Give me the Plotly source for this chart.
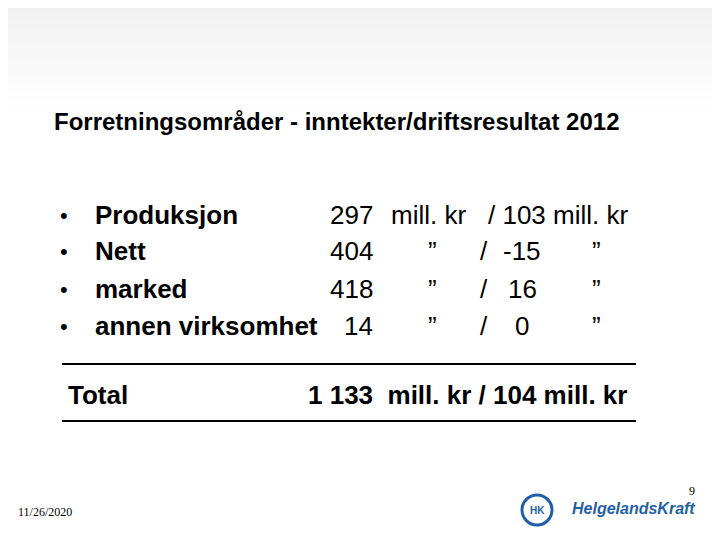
import plotly.graph_objects as go

title = "Forretningsområder - inntekter/driftsresultat 2012"
areas = ["Produksjon", "Nett", "marked", "annen virksomhet"]
revenue = [297, 404, 418, 14]
result = [103, -15, 16, 0]
total_revenue = "1 133"
total_result = 104
slide_date = "11/26/2020"
page_no = "9"

FONT = "Liberation Sans, Arial, sans-serif"
OFF = 8  # page body margin shifts the plot by this much
fig = go.Figure()
fig.update_xaxes(range=[OFF, 720 + OFF], visible=False, fixedrange=True)
fig.update_yaxes(range=[540 + OFF, OFF], visible=False, fixedrange=True)

# faint gray band at the top of the slide
for i in range(20):
    fig.add_shape(type="rect", x0=0, x1=740, y0=OFF + i * 5, y1=OFF + (i + 1) * 5, line_width=0,
                  fillcolor=f"rgba(200,200,200,{0.25 * (1 - i / 20):.3f})", layer="below")


def txt(x, y, s, size=26, anchor="left", bold=False, color="black", family=FONT):
    fig.add_annotation(x=x, y=y, text=f"<b>{s}</b>" if bold else s, showarrow=False,
                       xanchor=anchor, yanchor="middle",
                       font=dict(size=size, color=color, family=family))


txt(52, 121, title, size=24, bold=True)
rows_y = [215, 251, 289, 326]
for y, name, rev, res in zip(rows_y, areas, revenue, result):
    txt(58, y, "•", size=22)
    txt(93, y, name, bold=True)
    txt(375, y, str(rev), anchor="right")
    if y == rows_y[0]:
        txt(389, y, "mill. kr")
        txt(486, y, f"/ {res} mill. kr")
    else:
        txt(432, y, "”", anchor="center")
        txt(484, y, "/", anchor="center")
        txt(522, y, str(res), anchor="center")
        txt(596, y, "”", anchor="center")

for y in (364, 421):
    fig.add_shape(type="line", x0=62, x1=636, y0=y, y1=y, line=dict(color="black", width=2))

txt(66, 395, "Total", bold=True)
txt(629, 395, f"{total_revenue}  mill. kr / {total_result} mill. kr", anchor="right", bold=True)

txt(697, 491, page_no, size=12, anchor="right", family="Liberation Serif, serif")
txt(16, 512, slide_date, size=12, family="Liberation Serif, serif")

# logo
fig.add_shape(type="circle", x0=522, x1=552, y0=495, y1=525, line=dict(color="#1f5fa8", width=3),
              fillcolor="white")
txt(537, 510, "HK", size=10, anchor="center", bold=True, color="#1f5fa8")
txt(697, 508, "<i>HelgelandsKraft</i>", size=16, anchor="right", bold=True, color="#1f5fa8")

fig.update_layout(width=720, height=540, margin=dict(l=0, r=0, t=0, b=0),
                  plot_bgcolor="white", paper_bgcolor="white", showlegend=False)
fig.write_html("out.html")
